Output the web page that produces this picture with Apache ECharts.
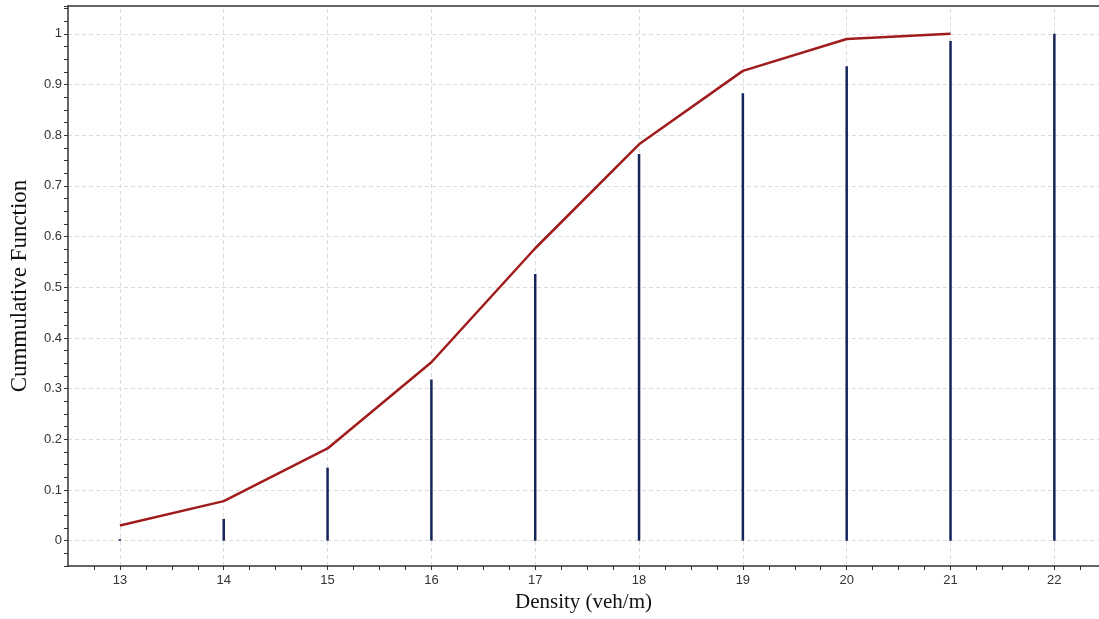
<!DOCTYPE html>
<html>
<head>
<meta charset="utf-8">
<script src="https://cdn.jsdelivr.net/npm/echarts@6/dist/echarts.min.js"></script>
<style>
  html, body { margin: 0; padding: 0; background: #fff; }
  #chart { width: 1099px; height: 619px; }
</style>
</head>
<body>
<div id="chart"></div>
<script>
// Density classes (veh/m)
const densities = [13, 14, 15, 16, 17, 18, 19, 20, 21, 22];
// Empirical cumulative proportions (vertical lines)
const empiricalCdf = [0.003, 0.043, 0.144, 0.318, 0.526, 0.763, 0.883, 0.936, 0.986, 1.0];
// Fitted cumulative function (curve), defined up to 21
const fittedDensities = [13, 14, 15, 16, 17, 18, 19, 20, 21];
const fittedCdf = [0.030, 0.078, 0.182, 0.352, 0.577, 0.782, 0.927, 0.990, 1.0];
// Grid positions
const yGridValues = [0, 0.1, 0.2, 0.3, 0.4, 0.5, 0.6, 0.7, 0.8, 0.9, 1];

const isMultiple = (v, step) => Math.abs(v / step - Math.round(v / step)) < 1e-6;

const gridStyle = { color: '#dcdcdc', type: [4, 3], width: 1 };
const labelFont = { color: '#333', fontFamily: 'Liberation Sans, Arial, sans-serif', fontSize: 13 };
const nameFont = { color: '#111', fontFamily: 'Liberation Serif, Times New Roman, serif', fontSize: 21 };

const chart = echarts.init(document.getElementById('chart'), null, { renderer: 'canvas' });

chart.setOption({
  animation: false,
  backgroundColor: '#fff',
  grid: { left: 68, top: 6, right: 0, bottom: 53, containLabel: false, outerBoundsMode: 'none' },
  xAxis: [
    {
      type: 'value',
      min: 12.5,
      max: 22.43,
      interval: 0.25,
      name: 'Density (veh/m)',
      nameLocation: 'middle',
      nameGap: 26,
      nameTextStyle: nameFont,
      axisLine: { show: true, onZero: false, lineStyle: { color: '#333', width: 1.5 } },
      axisTick: { show: true, length: 4, lineStyle: { color: '#333' } },
      axisLabel: {
        ...labelFont,
        margin: 8,
        showMinLabel: false,
        showMaxLabel: false,
        formatter: v => (isMultiple(v, 1) ? String(Math.round(v)) : '')
      },
      splitLine: { show: false }
    },
    {
      // top frame line
      type: 'value',
      position: 'top',
      min: 12.5,
      max: 22.43,
      axisLine: { show: true, onZero: false, lineStyle: { color: '#333', width: 1.5 } },
      axisTick: { show: false },
      axisLabel: { show: false },
      splitLine: { show: false }
    }
  ],
  yAxis: {
    type: 'value',
    min: -0.05,
    max: 1.055,
    interval: 0.025,
    name: 'Cummulative Function',
    nameLocation: 'middle',
    nameGap: 37,
    nameTextStyle: { ...nameFont, fontSize: 23 },
    axisLine: { show: true, onZero: false, lineStyle: { color: '#333', width: 1.5 } },
    axisTick: { show: true, length: 4, lineStyle: { color: '#333' } },
    axisLabel: {
      ...labelFont,
      margin: 6,
      formatter: v => {
        if (v < -1e-9 || !isMultiple(v, 0.1)) return '';
        return String(Math.round(v * 10) / 10);
      }
    },
    splitLine: { show: false }
  },
  series: [
    {
      // dashed reference grid, kept beneath the data marks
      type: 'line',
      data: [],
      silent: true,
      z: 0,
      markLine: {
        silent: true,
        z: 0,
        symbol: 'none',
        label: { show: false },
        lineStyle: gridStyle,
        animation: false,
        data: [
          ...densities.map(d => ({ xAxis: d })),
          ...yGridValues.map(v => ({ yAxis: v }))
        ]
      }
    },
    {
      name: 'Empirical',
      type: 'bar',
      barWidth: 2.5,
      itemStyle: { color: '#16245a' },
      data: densities.map((d, i) => [d, empiricalCdf[i]]),
      z: 3
    },
    {
      name: 'Cumulative',
      type: 'line',
      symbol: 'none',
      smooth: false,
      lineStyle: { color: '#a01c1c', width: 2.5 },
      data: fittedDensities.map((d, i) => [d, fittedCdf[i]]),
      z: 4
    }
  ]
});
</script>
</body>
</html>
